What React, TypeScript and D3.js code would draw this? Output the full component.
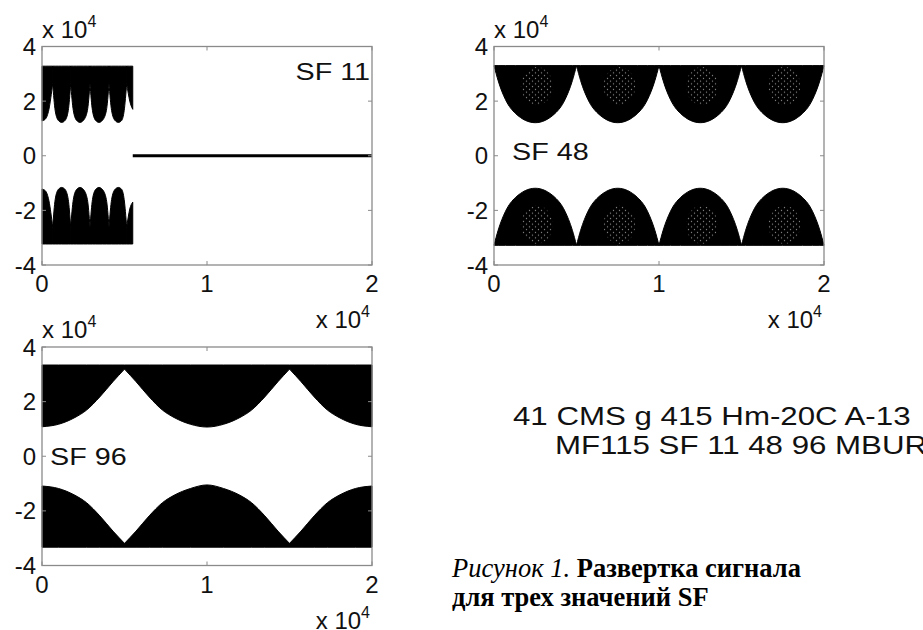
import React from 'react';
import * as d3 from 'd3';

// ось X и Y, общие для всех трёх графиков
const xTicks = [0, 10000, 20000];
const xTickLabels = ['0', '1', '2'];
const yTicks = [40000, 20000, 0, -20000, -40000];
const yTickLabels = ['4', '2', '0', '-2', '-4'];

// SF 11 — сигнал только до ~5500 отсчётов, дальше нулевая линия
const sf11Top = 32800;
const sf11Bottom = -32300;
const sf11End = 5500;
const sf11Upper = [
  [[0, 12800], [200, 13400], [420, 17000], [648, 26500]],
  [[648, 26500], [800, 16500], [994, 12900], [1194, 12200], [1394, 12900], [1590, 16500], [1739, 26500]],
  [[1739, 26500], [1900, 16500], [2103, 12900], [2303, 12200], [2503, 12900], [2750, 16500], [2909, 26500]],
  [[2909, 26500], [3060, 16500], [3255, 12900], [3455, 12200], [3655, 12900], [3900, 16500], [4061, 26500]],
  [[4061, 26500], [4220, 16500], [4427, 12900], [4627, 12200], [4827, 12900], [4980, 16500], [5133, 26500]],
  [[5133, 26500], [5320, 20000], [5500, 17000]],
];
const sf11Lower = [
  [[0, -12200], [200, -12800], [420, -16500], [648, -26200]],
  [[648, -26200], [800, -16000], [994, -12300], [1194, -11600], [1394, -12300], [1590, -16000], [1739, -26200]],
  [[1739, -26200], [1900, -16000], [2103, -12300], [2303, -11600], [2503, -12300], [2750, -16000], [2909, -26200]],
  [[2909, -26200], [3060, -16000], [3255, -12300], [3455, -11600], [3655, -12300], [3900, -16000], [4061, -26200]],
  [[4061, -26200], [4220, -16000], [4427, -12300], [4627, -11600], [4827, -12300], [4980, -16000], [5133, -26200]],
  [[5133, -26200], [5320, -19500], [5500, -17000]],
];

// SF 48 — период 5000 отсчётов
const sf48Top = 33000;
const sf48Bottom = -32800;
const sf48Upper = [
  [[0, 33000], [250, 27500], [700, 20500], [1300, 15500], [2500, 12100], [3700, 15500], [4300, 20500], [4750, 27500], [5000, 33000]],
  [[5000, 33000], [5250, 27500], [5700, 20500], [6300, 15500], [7500, 12100], [8700, 15500], [9300, 20500], [9750, 27500], [10000, 33000]],
  [[10000, 33000], [10250, 27500], [10700, 20500], [11300, 15500], [12500, 12100], [13700, 15500], [14300, 20500], [14750, 27500], [15000, 33000]],
  [[15000, 33000], [15250, 27500], [15700, 20500], [16300, 15500], [17500, 12100], [18700, 15500], [19300, 20500], [19750, 27500], [20000, 33000]],
];
const sf48Lower = [
  [[0, -32800], [250, -27300], [700, -20300], [1300, -15300], [2500, -11900], [3700, -15300], [4300, -20300], [4750, -27300], [5000, -32800]],
  [[5000, -32800], [5250, -27300], [5700, -20300], [6300, -15300], [7500, -11900], [8700, -15300], [9300, -20300], [9750, -27300], [10000, -32800]],
  [[10000, -32800], [10250, -27300], [10700, -20300], [11300, -15300], [12500, -11900], [13700, -15300], [14300, -20300], [14750, -27300], [15000, -32800]],
  [[15000, -32800], [15250, -27300], [15700, -20300], [16300, -15300], [17500, -11900], [18700, -15300], [19300, -20300], [19750, -27300], [20000, -32800]],
];
// светлые точки внутри «языков» SF 48: центр по X, центр по Y
const sf48Speckles = [
  [2600, 25500], [7600, 25500], [12600, 25500], [17600, 25500],
  [2600, -25300], [7600, -25300], [12600, -25300], [17600, -25300],
];

// SF 96 — период 10000 отсчётов
const sf96Top = 33400;
const sf96Bottom = -33300;
const sf96Upper = [
  [[0, 10800], [1000, 11700], [2000, 14200], [2700, 16900], [3500, 21700], [4300, 27300], [5000, 31900]],
  [[5000, 31900], [5700, 27300], [6500, 21700], [7300, 16900], [8000, 14200], [9000, 11700], [10000, 10700], [11000, 11700], [12000, 14200], [12700, 16900], [13500, 21700], [14300, 27300], [15000, 31900]],
  [[15000, 31900], [15700, 27300], [16500, 21700], [17300, 16900], [18000, 14200], [19000, 11700], [20000, 10800]],
];
const sf96Lower = [
  [[0, -10900], [1000, -11800], [2000, -14300], [2700, -17000], [3500, -21800], [4300, -27400], [5000, -31900]],
  [[5000, -31900], [5700, -27400], [6500, -21800], [7300, -17000], [8000, -14300], [9000, -11800], [10000, -10500], [11000, -11800], [12000, -14300], [12700, -17000], [13500, -21800], [14300, -27400], [15000, -31900]],
  [[15000, -31900], [15700, -27400], [16500, -21800], [17300, -17000], [18000, -14300], [19000, -11800], [20000, -10900]],
];

const infoLines = ['41 CMS g 415 Hm-20C A-13', 'MF115 SF 11 48 96 MBUR'];

const SANS = '"Liberation Sans", Arial, Helvetica, sans-serif';
const SERIF = '"Liberation Serif", "Times New Roman", Times, serif';
const SX = 1.25; // часть надписей на картинке растянута по горизонтали

type Pt = number[];

const Txt = ({ x, y, size, anchor = 'start', children, family = SANS, sx = SX }: any) => (
  <text
    transform={`translate(${x},${y}) scale(${sx},1)`}
    fontFamily={family}
    fontSize={size}
    textAnchor={anchor}
    fill="#111"
  >
    {children}
  </text>
);

const Panel = ({ left, top, width, height, bandTop, bandBottom, upper, lower, zeroFrom, speckles, label, labelX, labelY, labelAnchor }: any) => {
  const x = d3.scaleLinear().domain([0, 20000]).range([left, left + width]);
  const y = d3.scaleLinear().domain([-40000, 40000]).range([top + height, top]);

  const upperArea = d3.area<Pt>()
    .x(d => x(d[0]))
    .y0(y(bandTop))
    .y1(d => y(d[1]))
    .curve(d3.curveMonotoneX);
  const lowerArea = d3.area<Pt>()
    .x(d => x(d[0]))
    .y0(y(bandBottom))
    .y1(d => y(d[1]))
    .curve(d3.curveMonotoneX);

  const tickLen = 4;
  return (
    <g>
      {/* полосы сигнала */}
      {upper.map((seg: Pt[], i: number) => (
        <path key={'u' + i} d={upperArea(seg) || ''} fill="#000" stroke="#000" strokeWidth={1} />
      ))}
      {lower.map((seg: Pt[], i: number) => (
        <path key={'l' + i} d={lowerArea(seg) || ''} fill="#000" stroke="#000" strokeWidth={1} />
      ))}
      {speckles && speckles.map((s: Pt, i: number) => (
        <ellipse key={'s' + i} cx={x(s[0])} cy={y(s[1])} rx={16} ry={19} fill="url(#speckle)" opacity={0.55} />
      ))}
      {zeroFrom != null && (
        <line x1={x(zeroFrom)} x2={x(20000)} y1={y(0)} y2={y(0)} stroke="#000" strokeWidth={3} />
      )}

      {/* рамка */}
      <rect x={left} y={top} width={width} height={height} fill="none" stroke="#8a8a8a" strokeWidth={1.3} />
      {xTicks.map(t => (
        <g key={'xt' + t}>
          <line x1={x(t)} x2={x(t)} y1={top + height} y2={top + height - tickLen} stroke="#8a8a8a" />
          <line x1={x(t)} x2={x(t)} y1={top} y2={top + tickLen} stroke="#8a8a8a" />
        </g>
      ))}
      {yTicks.map(t => (
        <g key={'yt' + t}>
          <line x1={left} x2={left + tickLen} y1={y(t)} y2={y(t)} stroke="#8a8a8a" />
          <line x1={left + width} x2={left + width - tickLen} y1={y(t)} y2={y(t)} stroke="#8a8a8a" />
        </g>
      ))}

      {/* подписи делений */}
      {yTicks.map((t, i) => (
        <Txt key={'yl' + t} x={left - 6} y={y(t) + 8.5} size={24} anchor="end" sx={1}>{yTickLabels[i]}</Txt>
      ))}
      {xTicks.map((t, i) => (
        <Txt key={'xl' + t} x={x(t)} y={top + height + 27} size={24} anchor="middle" sx={1}>{xTickLabels[i]}</Txt>
      ))}

      {/* множители осей */}
      <Txt x={left} y={top - 9} size={24} sx={1}>
        x 10<tspan dy={-11} fontSize={16}>4</tspan>
      </Txt>
      <Txt x={left + width - 2} y={top + height + 63} size={24} anchor="end" sx={1}>
        x 10<tspan dy={-11} fontSize={16}>4</tspan>
      </Txt>

      <Txt x={labelX} y={labelY} size={23} anchor={labelAnchor}>{label}</Txt>
    </g>
  );
};

export default function App() {
  const W = 923;
  const H = 630;
  const pw = 330;
  const ph = 218.5;

  const panels = [
    { left: 42, top: 46.5, bandTop: sf11Top, bandBottom: sf11Bottom, upper: sf11Upper, lower: sf11Lower, zeroFrom: sf11End, speckles: null, label: 'SF 11', labelX: 370, labelY: 80, labelAnchor: 'end' },
    { left: 494, top: 46.5, bandTop: sf48Top, bandBottom: sf48Bottom, upper: sf48Upper, lower: sf48Lower, zeroFrom: null, speckles: sf48Speckles, label: 'SF 48', labelX: 512, labelY: 160, labelAnchor: 'start' },
    { left: 42, top: 347, bandTop: sf96Top, bandBottom: sf96Bottom, upper: sf96Upper, lower: sf96Lower, zeroFrom: null, speckles: null, label: 'SF 96', labelX: 50, labelY: 465, labelAnchor: 'start' },
  ];

  return (
    <svg width={W} height={H} style={{ position: 'absolute', left: 0, top: 0, background: '#fff' }}>
      <defs>
        <pattern id="speckle" width={6} height={5.5} patternUnits="userSpaceOnUse">
          <rect width={6} height={5.5} fill="#000" />
          <circle cx={1.5} cy={1.4} r={0.7} fill="#fff" />
          <circle cx={4.5} cy={4.1} r={0.7} fill="#fff" />
        </pattern>
      </defs>
      <rect width={W} height={H} fill="#fff" />
      {panels.map((p, i) => (
        <Panel key={i} width={pw} height={ph} {...p} />
      ))}

      <Txt x={513} y={425} size={25}>{infoLines[0]}</Txt>
      <Txt x={555} y={454} size={25}>{infoLines[1]}</Txt>

      <text x={452} y={577} fontFamily={SERIF} fontSize={26.5} fill="#000">
        <tspan fontStyle="italic">Рисунок 1.</tspan>
        <tspan fontWeight="bold"> Развертка сигнала</tspan>
      </text>
      <text x={452} y={606} fontFamily={SERIF} fontSize={26.5} fontWeight="bold" fill="#000">
        для трех значений SF
      </text>
    </svg>
  );
}
